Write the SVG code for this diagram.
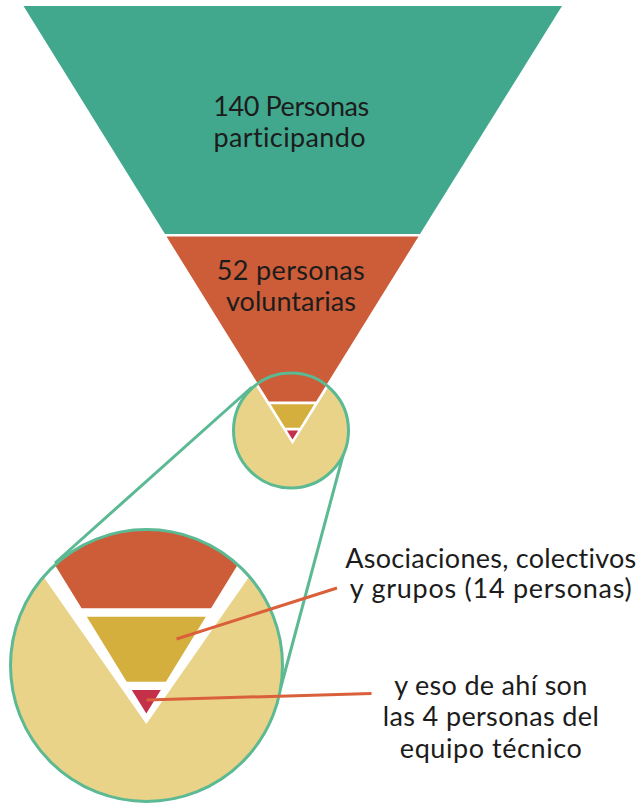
<svg xmlns="http://www.w3.org/2000/svg" width="642" height="804" viewBox="0 0 642 804">
  <defs>
    <clipPath id="clipSmall"><circle cx="291" cy="430.5" r="57.5"/></clipPath>
    <clipPath id="clipBig"><circle cx="146.5" cy="665.5" r="136"/></clipPath>
    <style>
      .lbl { font-family: Lato, "Open Sans", "Liberation Sans", sans-serif; font-size: 27px; fill: #1c1c1c; text-anchor: middle; font-variant-ligatures: none; }
      .green { fill: #41A88E; }
      .orange { fill: #CD5C38; }
      .gold { fill: #D4AF3E; }
      .red { fill: #C4304A; }
      .bg { fill: #E9D388; }
      .ring { fill: none; stroke: #5BB993; stroke-width: 3; }
      .zoomline { stroke: #5BB993; stroke-width: 3; fill: none; }
      .pointer { stroke: #D9603A; stroke-width: 3; fill: none; stroke-linecap: butt; }
    </style>
  </defs>

  <g id="level-participando">
    <polygon class="green" points="23.5,6 562,6 420,234 165,234"/>
    <text class="lbl" x="291.3" y="115.7" textLength="156" lengthAdjust="spacing">140 Personas</text>
    <text class="lbl" x="289.5" y="146.7" textLength="152" lengthAdjust="spacing">participando</text>
  </g>

  <g id="level-voluntarias">
    <polygon class="orange" points="166.5,236.5 418.5,236.5 292.5,439.5"/>
    <text class="lbl" x="290.8" y="280" textLength="148" lengthAdjust="spacing">52 personas</text>
    <text class="lbl" x="291" y="310.7" textLength="130" lengthAdjust="spacing">voluntarias</text>
  </g>

  <g id="connectors">
    <line class="zoomline" x1="252" y1="387" x2="55" y2="563"/>
    <line class="zoomline" x1="345" y1="448" x2="280.6" y2="688"/>
  </g>

  <g id="zoom-small">
    <circle class="bg" cx="291" cy="430.5" r="57.5"/>
    <g clip-path="url(#clipSmall)">
      <polygon points="230,340 355,340 292.5,439.5" fill="#ffffff" stroke="#ffffff" stroke-width="5" stroke-linejoin="miter" stroke-miterlimit="10"/>
      <polygon class="orange" points="243.2,360 341.8,360 316.1,401.5 268.9,401.5"/>
      <polygon class="gold" points="270.7,404.3 314.3,404.3 299.8,427.7 285.2,427.7"/>
      <polygon class="red" points="286.9,430.5 298.1,430.5 292.5,439.5"/>
    </g>
    <circle class="ring" cx="291" cy="430.5" r="57.5"/>
  </g>

  <g id="zoom-big">
    <circle class="bg" cx="146.5" cy="665.5" r="136"/>
    <g clip-path="url(#clipBig)">
      <polygon points="-10,490 302.6,490 146.3,713.5" fill="#ffffff" stroke="#ffffff" stroke-width="12" stroke-linejoin="miter" stroke-miterlimit="10"/>
      <polygon class="orange" points="27.3,520 265.3,520 211,608.3 81.6,608.3"/>
      <polygon class="gold" points="86.8,616.7 205.8,616.7 165.9,681.7 126.7,681.7"/>
      <polygon class="red" points="131.8,690 160.8,690 146.3,713.5"/>
    </g>
    <circle class="ring" cx="146.5" cy="665.5" r="136"/>
  </g>

  <g id="label-asociaciones">
    <line class="pointer" x1="176.5" y1="639" x2="337" y2="588"/>
    <text class="lbl" x="490.8" y="568.3" textLength="291" lengthAdjust="spacing">Asociaciones, colectivos</text>
    <text class="lbl" x="490.8" y="598.3" textLength="282" lengthAdjust="spacing">y grupos (14 personas)</text>
  </g>

  <g id="label-equipo">
    <line class="pointer" x1="146.5" y1="700" x2="371.5" y2="693.5"/>
    <text class="lbl" x="490.8" y="695" textLength="193" lengthAdjust="spacing">y eso de ahí son</text>
    <text class="lbl" x="490.8" y="726" textLength="216" lengthAdjust="spacing">las 4 personas del</text>
    <text class="lbl" x="490.8" y="757.5" textLength="182" lengthAdjust="spacing">equipo técnico</text>
  </g>
</svg>
